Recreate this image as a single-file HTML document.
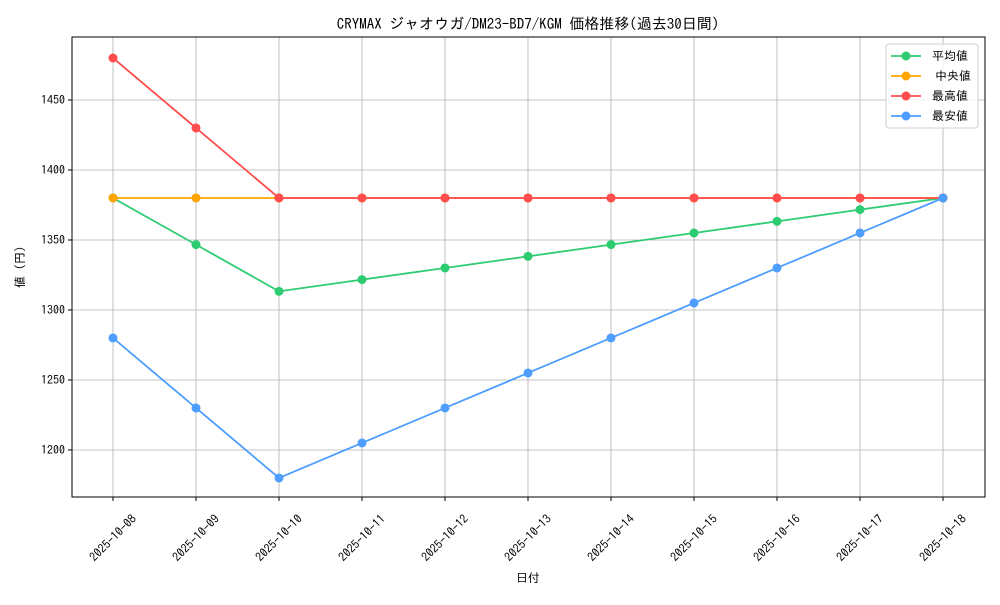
<!DOCTYPE html>
<html><head><meta charset="utf-8"><style>
body{margin:0;background:#fff}
svg text{font-family:"IPAGothic","Liberation Sans","Noto Sans CJK JP",sans-serif;fill:#000}
</style></head><body>
<svg id="chart" width="1000" height="600" xmlns="http://www.w3.org/2000/svg">
<rect x="0" y="0" width="1000" height="600" fill="#fff"/>
<g id="grid"></g><g id="series"></g><g id="axes"></g>
<text x="528" y="29" font-size="15" text-anchor="middle">CRYMAX ジャオウガ/DM23-BD7/KGM 価格推移(過去30日間)</text>
<text x="528" y="582" font-size="12" text-anchor="middle">日付</text>
<text transform="translate(24,267) rotate(-90)" font-size="12" text-anchor="middle">値 (円)</text>
<g id="legend"></g>
</svg>
<script>
const dates=["2025-10-08","2025-10-09","2025-10-10","2025-10-11","2025-10-12","2025-10-13","2025-10-14","2025-10-15","2025-10-16","2025-10-17","2025-10-18"];
const avgValues=[1380,1346.7,1313.3,1321.7,1330,1338.3,1346.7,1355,1363.3,1371.7,1380];
const medianValues=[1380,1380,1380,1380,1380,1380,1380,1380,1380,1380,1380];
const maxValues=[1480,1430,1380,1380,1380,1380,1380,1380,1380,1380,1380];
const minValues=[1280,1230,1180,1205,1230,1255,1280,1305,1330,1355,1380];
const yTicks=[1200,1250,1300,1350,1400,1450];
const seriesNames=["平均値","中央値","最高値","最安値"];
const NS="http://www.w3.org/2000/svg";
const L=72,R=985,T=37,B=497;
const yMin=1166.4,yMax=1495;
function xs(i){return 113+i*(943-113)/(dates.length-1);}
function ys(v){return B-(v-yMin)/(yMax-yMin)*(B-T);}
function mk(tag,attrs,parent){const e=document.createElementNS(NS,tag);for(const k in attrs)e.setAttribute(k,attrs[k]);parent.appendChild(e);return e;}
const grid=document.getElementById('grid'),axes=document.getElementById('axes'),ser=document.getElementById('series'),leg=document.getElementById('legend');
dates.forEach((d,i)=>{
 const g=mk('line',{x1:xs(i),x2:xs(i),y1:T,y2:B,stroke:'#b0b0b0','stroke-width':0.8},grid);
 
 
 mk('line',{x1:xs(i),x2:xs(i),y1:B,y2:B+4,stroke:'#000'},axes);
 const ax=xs(i), ay=538;
 const t=mk('text',{x:ax,y:ay+4,'font-size':12,'text-anchor':'middle',transform:`rotate(-45 ${ax} ${ay})`},axes);
 
 
 t.textContent=d;
});
yTicks.forEach(v=>{
 const g=mk('line',{x1:L,x2:R,y1:ys(v),y2:ys(v),stroke:'#b0b0b0','stroke-width':0.8},grid);
 
 
 mk('line',{x1:L-4,x2:L,y1:ys(v),y2:ys(v),stroke:'#000'},axes);
 const t=mk('text',{x:L-7,y:ys(v)+4,'font-size':12,'text-anchor':'end'},axes);
 
 
 t.textContent=v;
});
const fr=mk('rect',{x:L,y:T,width:R-L,height:B-T,fill:'none',stroke:'#000','stroke-width':1},axes);


const all=[avgValues,medianValues,maxValues,minValues];
const colors=["#2ecc71","#ffa500","#ff4d4d","#4d9eff"];
const keys=["average","median","max","min"];
all.forEach((vals,s)=>{
 const g=mk('g',{},ser);
 
 
 const p=mk('polyline',{points:vals.map((v,i)=>xs(i)+','+ys(v)).join(' '),fill:'none',stroke:colors[s],'stroke-width':1.8},g);
 
 
 vals.forEach((v,i)=>{
  const c=mk('circle',{cx:xs(i),cy:ys(v),r:4.5,fill:colors[s]},g);
  
  
 });
});
mk('rect',{x:886,y:44,width:92,height:84,rx:3,fill:'#fff','fill-opacity':0.8,stroke:'#d0d0d0'},leg);
seriesNames.forEach((n,s)=>{
 const y=56+s*20;
 const g=mk('g',{},leg);
 
 
 mk('line',{x1:891,x2:921,y1:y,y2:y,stroke:colors[s],'stroke-width':1.8},g);
 mk('circle',{cx:906,cy:y,r:4.5,fill:colors[s]},g);
 const t=mk('text',{x:932+(s==1?3:0),y:y+4,'font-size':12},g);
 t.textContent=n;
});
</script>
</body></html>
